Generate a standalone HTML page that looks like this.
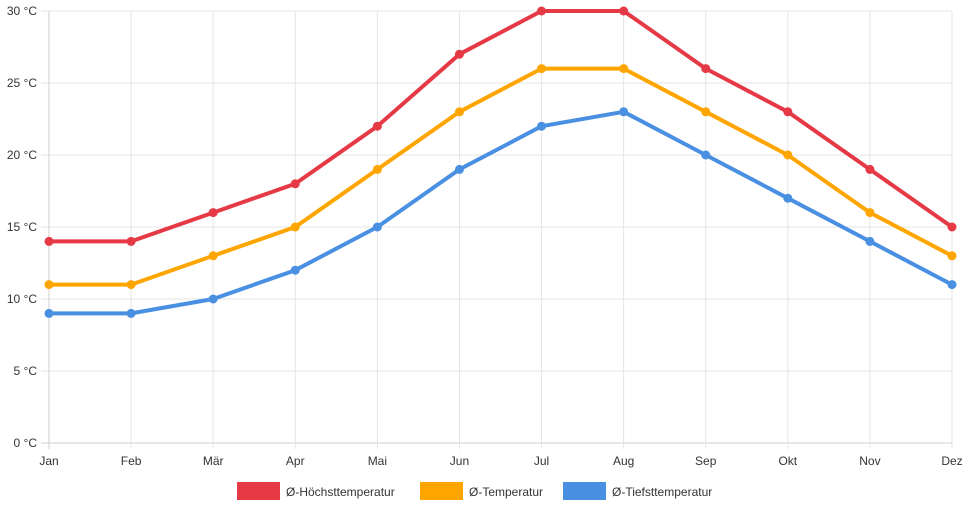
<!DOCTYPE html>
<html><head><meta charset="utf-8"><style>
html,body{margin:0;padding:0;background:#fff;}
svg{display:block;font-family:"Liberation Sans",sans-serif;}
</style></head><body>
<svg id="chart" width="968" height="508"></svg>
<script>
const months=["Jan","Feb","Mär","Apr","Mai","Jun","Jul","Aug","Sep","Okt","Nov","Dez"];
const highs=[14,14,16,18,22,27,30,30,26,23,19,15];
const avgs=[11,11,13,15,19,23,26,26,23,20,16,13];
const lows=[9,9,10,12,15,19,22,23,20,17,14,11];
const yTicks=[0,5,10,15,20,25,30];
const seriesNames=["Ø-Höchsttemperatur","Ø-Temperatur","Ø-Tiefsttemperatur"];
const seriesColors=["#e63946","#ffa500","#4a90e2"];

const NS="http://www.w3.org/2000/svg";
const svg=document.getElementById('chart');
const x0=49,x1=952,yTop=11,yBot=443,yMax=30;
function xs(i){return x0+i*(x1-x0)/(months.length-1);}
function ys(v){return yBot-v*(yBot-yTop)/yMax;}
function mk(tag,attrs,parent){const e=document.createElementNS(NS,tag);for(const k in attrs)e.setAttribute(k,attrs[k]);(parent||svg).appendChild(e);return e;}

const grid=mk('g',{});


yTicks.forEach(t=>{
  const l=mk('line',{x1:x0-8,x2:x1,y1:ys(t),y2:ys(t),stroke:t===0?'#cfcfcf':'#e5e5e5','stroke-width':1},grid);
  
  
  const tx=mk('text',{x:37,y:ys(t)+4,'text-anchor':'end','font-size':12,fill:'#333'});
  tx.textContent=t+' °C';
  
  
});
months.forEach((m,i)=>{
  const l=mk('line',{x1:xs(i),x2:xs(i),y1:yTop,y2:yBot+6,stroke:i===0?'#cfcfcf':'#e5e5e5','stroke-width':1},grid);
  
  
  const tx=mk('text',{x:xs(i),y:465,'text-anchor':'middle','font-size':12,fill:'#333'});
  tx.textContent=m;
  
  
});

[highs,avgs,lows].forEach((data,s)=>{
  const g=mk('g',{});
  
  
  const p=mk('polyline',{points:data.map((v,i)=>xs(i)+','+ys(v)).join(' '),fill:'none',stroke:seriesColors[s],'stroke-width':4,'stroke-linejoin':'round'},g);
  
  
  data.forEach((v,i)=>{
    const c=mk('circle',{cx:xs(i),cy:ys(v),r:4.5,fill:seriesColors[s]},g);
    
    
  });
});

const legX=[237,420,563];
const leg=mk('g',{});


seriesNames.forEach((n,s)=>{
  const g=mk('g',{},leg);
  
  
  mk('rect',{x:legX[s],y:482,width:43,height:18,fill:seriesColors[s]},g);
  const t=mk('text',{x:legX[s]+49,y:496,'font-size':12,fill:'#333'},g);
  t.textContent=n;
});
</script>
</body></html>
